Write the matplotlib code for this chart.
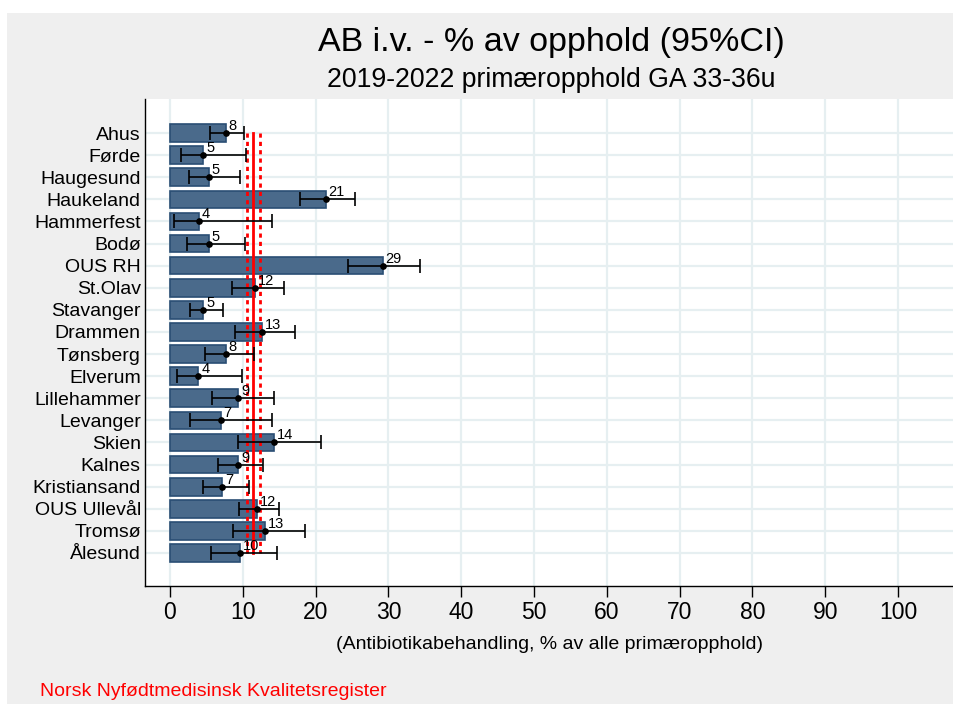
import matplotlib
matplotlib.use("Agg")
import matplotlib.pyplot as plt
from matplotlib.patches import Rectangle

plt.rcParams['font.family'] = ['Liberation Sans', 'DejaVu Sans']

hospitals = ["Ahus", "Førde", "Haugesund", "Haukeland", "Hammerfest", "Bodø",
             "OUS RH", "St.Olav", "Stavanger", "Drammen", "Tønsberg", "Elverum",
             "Lillehammer", "Levanger", "Skien", "Kalnes", "Kristiansand",
             "OUS Ullevål", "Tromsø", "Ålesund"]
pct = [7.7, 4.6, 5.3, 21.4, 4.0, 5.3, 29.2, 11.7, 4.6, 12.7, 7.7, 3.9,
       9.4, 7.0, 14.3, 9.4, 7.2, 12.0, 13.0, 9.6]
ci_low = [5.5, 1.5, 2.6, 17.8, 0.5, 2.3, 24.5, 8.5, 2.8, 9.0, 4.8, 1.0,
          5.8, 2.8, 9.3, 6.6, 4.5, 9.5, 8.6, 5.7]
ci_high = [10.2, 10.4, 9.6, 25.4, 14.0, 10.3, 34.4, 15.6, 7.3, 17.2, 11.6, 9.9,
           14.3, 14.0, 20.7, 12.8, 10.8, 15.0, 18.6, 14.7]
national_mean = 11.4
national_ci = [10.55, 12.3]
xticks = list(range(0, 101, 10))

fig = plt.figure(figsize=(9.54, 7.04), dpi=100, facecolor="white")
# grey canvas behind the plot region
fig.patches.append(Rectangle((7 / 954, 0), 1 - 7 / 954, (704 - 13) / 704,
                             transform=fig.transFigure, facecolor="#efefef",
                             edgecolor="none", zorder=-10))

ax = fig.add_axes([145 / 954, (704 - 585.7) / 704, 1 - 145 / 954, (585.7 - 99) / 704])
ax.set_zorder(1)
ax.set_facecolor("white")

y = list(range(len(hospitals)))
grid_c = "#e6eff1"
for v in xticks:
    ax.axvline(v, color=grid_c, lw=1.6, zorder=0)
for yy in y:
    ax.axhline(yy, color=grid_c, lw=1.6, zorder=0)

ax.barh(y, pct, height=0.8, color="#4a6a8b", edgecolor="#2a4e74", linewidth=1.2, zorder=2)

xerr = [[p - lo for p, lo in zip(pct, ci_low)], [hi - p for p, hi in zip(pct, ci_high)]]
ax.errorbar(pct, y, xerr=xerr, fmt="o", color="black", ms=3.8, elinewidth=1.2,
            capsize=5, capthick=1.2, zorder=4)

for yy, p in zip(y, pct):
    ax.annotate(f"{p:.0f}", (p, yy), xytext=(2, 0.0), textcoords="offset points",
                ha="left", va="bottom", fontsize=10.5, zorder=5)

ax.plot([national_mean, national_mean], [y[0], y[-1]], color="red", lw=2.0, zorder=3)
for c in national_ci:
    ax.plot([c, c], [y[0], y[-1]], color="red", lw=2.0, ls=(0, (1.5, 1.5)), zorder=3)

ax.set_xlim(-3.43, 107.7)
ax.set_ylim(20.48, -1.54)
ax.set_yticks(y)
ax.set_yticklabels(hospitals, fontsize=14)
ax.set_xticks(xticks)
ax.set_xticklabels([str(v) for v in xticks], fontsize=16.5)
ax.tick_params(axis="y", length=0, pad=3)
ax.tick_params(axis="x", length=8, width=1, pad=3, direction="out")
for s in ["top", "right"]:
    ax.spines[s].set_visible(False)
for s in ["left", "bottom"]:
    ax.spines[s].set_linewidth(1.0)
    ax.spines[s].set_color("black")

ax.set_xlabel("(Antibiotikabehandling, % av alle primæropphold)", fontsize=14, labelpad=9)

fig.text(551 / 954, 1 - 42 / 704, "AB i.v. - % av opphold (95%CI)", ha="center", va="center", fontsize=24.5)
fig.text(551 / 954, 1 - 80 / 704, "2019-2022 primæropphold GA 33-36u", ha="center", va="center", fontsize=19.2)
fig.text(40 / 954, 1 - 692 / 704, "Norsk Nyfødtmedisinsk Kvalitetsregister", ha="left", va="center",
         fontsize=14, color="red")

fig.savefig("out.png", dpi=100, facecolor=fig.get_facecolor())
